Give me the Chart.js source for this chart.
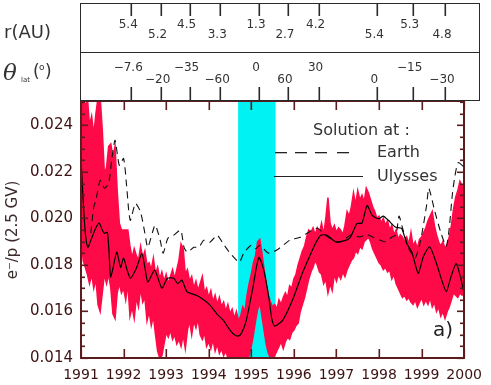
<!DOCTYPE html>
<html><head><meta charset="utf-8">
<script src="https://cdn.jsdelivr.net/npm/chart.js@4.4.0/dist/chart.umd.min.js"></script>
<style>html,body{margin:0;padding:0;background:#fff;}canvas{display:block;}</style>
</head><body>
<canvas id="c" width="491" height="385"></canvas>
<script>
// ---------- data ----------
const xTickYears = [1991,1992,1993,1994,1995,1996,1997,1998,1999,2000];
const yTickValues = [0.014,0.016,0.018,0.020,0.022,0.024];
const yMinorStep = 0.0005;
const cyanBand = [1994.69, 1995.57];

const ulyssesYears = [1991.00,1991.05,1991.10,1991.16,1991.25,1991.35,1991.43,1991.50,1991.55,1991.62,1991.66,1991.70,1991.84,1991.93,1992.00,1992.08,1992.16,1992.30,1992.43,1992.50,1992.57,1992.73,1992.90,1993.03,1993.18,1993.27,1993.37,1993.49,1993.71,1993.88,1994.03,1994.19,1994.34,1994.50,1994.61,1994.70,1994.77,1994.88,1995.04,1995.12,1995.18,1995.24,1995.31,1995.42,1995.48,1995.55,1995.74,1995.97,1996.20,1996.36,1996.51,1996.63,1996.78,1996.98,1997.21,1997.33,1997.48,1997.60,1997.72,1997.84,1997.99,1998.10,1998.22,1998.38,1998.53,1998.65,1998.77,1998.92,1999.04,1999.19,1999.35,1999.46,1999.58,1999.69,1999.81,1999.89,1999.99];
const ulyssesValues = [0.0226,0.0208,0.0194,0.01876,0.01915,0.0196,0.0198,0.0195,0.01936,0.0194,0.0185,0.01748,0.01855,0.0179,0.0183,0.0178,0.01743,0.01786,0.0185,0.0179,0.01726,0.01778,0.0170,0.01743,0.01743,0.0172,0.01735,0.01685,0.0167,0.0165,0.01627,0.0159,0.01563,0.0152,0.01499,0.01495,0.01507,0.0156,0.01705,0.0179,0.01833,0.0181,0.01765,0.0165,0.0157,0.01537,0.01563,0.0165,0.01765,0.01833,0.01893,0.01928,0.01928,0.0190,0.01906,0.0192,0.01978,0.0198,0.02056,0.02013,0.01999,0.0201,0.01992,0.01963,0.01957,0.01892,0.01856,0.01764,0.01835,0.01878,0.01806,0.01742,0.01685,0.01749,0.01806,0.01765,0.01685];

const earthYears = [1991.23,1991.30,1991.35,1991.45,1991.55,1991.65,1991.72,1991.80,1991.90,1992.00,1992.07,1992.12,1992.16,1992.28,1992.40,1992.50,1992.57,1992.74,1992.86,1992.93,1993.04,1993.15,1993.34,1993.42,1993.50,1993.65,1993.77,1993.88,1994.03,1994.20,1994.33,1994.50,1994.72,1994.82,1995.00,1995.10,1995.20,1995.40,1995.60,1995.90,1996.15,1996.35,1996.55,1996.80,1996.98,1997.10,1997.35,1997.55,1997.70,1997.85,1998.03,1998.15,1998.30,1998.40,1998.47,1998.55,1998.70,1998.85,1998.97,1999.05,1999.12,1999.17,1999.31,1999.45,1999.58,1999.65,1999.72,1999.78,1999.86,2000.00];
const earthValues = [0.01937,0.0205,0.02078,0.02164,0.0213,0.0215,0.0225,0.02336,0.02228,0.02258,0.02143,0.02035,0.01992,0.02065,0.02027,0.01937,0.01876,0.01971,0.01906,0.01851,0.01915,0.01924,0.0195,0.01876,0.01855,0.01876,0.01876,0.01906,0.01898,0.01928,0.01894,0.01851,0.01812,0.01851,0.01885,0.0187,0.01885,0.01851,0.01864,0.01906,0.01919,0.01941,0.01958,0.0192,0.0190,0.0190,0.0193,0.0192,0.01932,0.0192,0.01906,0.0190,0.0192,0.0193,0.0201,0.0196,0.0187,0.0183,0.0190,0.0198,0.0206,0.0213,0.0203,0.0194,0.0188,0.0196,0.0210,0.0218,0.0224,0.0222];

// measured e-/p band, sampled every 0.05 yr from 1991.00
const redStartYear = 1991;
const redStepYears = 0.05;
const redHigh = [
 0.0252,0.0252,0.0248,0.0252,0.0240,0.0244,0.0236,0.0245,0.0252,0.0252,0.0238,0.0219,0.0222,0.0231,0.0232,0.0226,0.0231,0.0212,0.0198,0.0195,
 0.0195,0.0195,0.0195,0.0188,0.0183,0.0187,0.0184,0.0182,0.0188,0.0183,0.0186,0.0180,0.0181,0.0178,0.0183,0.0176,0.0179,0.0174,0.0177,0.0173,
 0.0176,0.0172,0.0175,0.0178,0.0174,0.0178,0.0182,0.0189,0.0187,0.0176,0.0178,0.0173,0.0175,0.0170,0.0173,0.0169,0.0172,0.0175,0.0168,0.0170,
 0.0166,0.0169,0.0164,0.0167,0.0163,0.0166,0.0162,0.0164,0.0160,0.0163,0.0159,0.0161,0.0157,0.0160,0.0156,0.0158,0.0162,0.0160,0.0167,0.0172,
 0.0176,0.0181,0.0184,0.0190,0.0191,0.0185,0.0178,0.0172,0.0167,0.0164,0.0162,0.0163,0.0161,0.0165,0.0163,0.0166,0.0168,0.0166,0.0171,0.0170,
 0.0174,0.0176,0.0180,0.0183,0.0186,0.0188,0.0192,0.0195,0.0194,0.0196,0.0193,0.0196,0.0194,0.0198,0.0193,0.0200,0.0209,0.0198,0.0195,0.0197,
 0.0194,0.0196,0.0195,0.0193,0.0197,0.0203,0.0201,0.0205,0.0211,0.0206,0.0212,0.0208,0.0210,0.0207,0.0213,0.0211,0.0208,0.0205,0.0203,0.0200,
 0.0201,0.0198,0.0200,0.0197,0.0199,0.0195,0.0197,0.0193,0.0195,0.0191,0.0193,0.0192,0.0190,0.0192,0.0189,0.0194,0.0188,0.0190,0.0187,0.0191,
 0.0192,0.0194,0.0196,0.0199,0.0201,0.0203,0.0197,0.0193,0.0190,0.0188,0.0190,0.0187,0.0189,0.0192,0.0197,0.0204,0.0209,0.0212,0.0216,0.0214,
 0.0215];
const redLow = [
 0.0195,0.0182,0.0179,0.0176,0.0172,0.0176,0.0170,0.0174,0.0163,0.0160,0.0168,0.0176,0.0172,0.0176,0.0170,0.0159,0.0157,0.0168,0.0172,0.0168,
 0.0170,0.0165,0.0172,0.0158,0.0162,0.0157,0.0166,0.0162,0.0170,0.0164,0.0166,0.0156,0.0160,0.0154,0.0158,0.0150,0.0143,0.0140,0.0141,0.0146,
 0.0151,0.0149,0.0152,0.0148,0.0150,0.0146,0.0148,0.0145,0.0150,0.0144,0.0152,0.0156,0.0150,0.0156,0.0153,0.0157,0.0150,0.0148,0.0151,0.0145,
 0.0147,0.0144,0.0148,0.0143,0.0146,0.0142,0.0144,0.0141,0.0143,0.0140,0.0141,0.0140,0.0140,0.0140,0.0140,0.0140,0.0140,0.0140,0.0140,0.0141,
 0.0145,0.0150,0.0156,0.0161,0.0164,0.0158,0.0152,0.0146,0.0142,0.0140,0.0140,0.0141,0.0143,0.0145,0.0147,0.0144,0.0147,0.0149,0.0148,0.0151,
 0.0152,0.0154,0.0155,0.0160,0.0163,0.0166,0.0170,0.0174,0.0177,0.0179,0.0182,0.0180,0.0177,0.0176,0.0172,0.0174,0.0168,0.0172,0.0169,0.0176,
 0.0173,0.0176,0.0174,0.0177,0.0175,0.0178,0.0180,0.0182,0.0183,0.0186,0.0185,0.0188,0.0187,0.0190,0.0191,0.0192,0.0190,0.0187,0.0185,0.0183,
 0.0181,0.0180,0.0178,0.0179,0.0177,0.0178,0.0174,0.0176,0.0172,0.0170,0.0168,0.0166,0.0167,0.0165,0.0166,0.0164,0.0163,0.0165,0.0162,0.0164,
 0.0166,0.0163,0.0165,0.0163,0.0166,0.0162,0.0164,0.0160,0.0162,0.0158,0.0160,0.0157,0.0160,0.0162,0.0165,0.0168,0.0167,0.0166,0.0168,0.0167,
 0.0168];

// Ulysses orbit annotation (top panel)
const orbitTickYears = [1992.18,1992.87,1993.55,1994.27,1995.18,1995.86,1996.58,1997.96,1998.79,1999.55];
const rLabels = ['5.4','5.2','4.5','3.3','1.3','2.7','4.2','5.4','5.3','4.8'];
const thetaLabels = ['\u22127.6','\u221220','\u221235','\u221260','0','60','30','0','\u221215','\u221230'];

// ---------- build ----------
const pts = (xs, ys) => xs.map((x, i) => ({x, y: ys[i]}));
const redPts = arr => arr.map((v, i) => ({x: redStartYear + i * redStepYears, y: v}));

const FONT = 'DejaVu Sans';
const RED = '#ff0a48';
const AXIS = '#5a1c1c';
const LABEL = '#3d1212';

function vline(ctx, x, y1, y2, w) { ctx.fillRect(Math.round(x) - 0.5, Math.min(y1, y2), w || 1.6, Math.abs(y2 - y1)); }
function hline(ctx, x1, x2, y, w) { ctx.fillRect(Math.min(x1, x2), Math.round(y) - 0.5, Math.abs(x2 - x1), w || 1.6); }

const deco = {
  id: 'deco',
  beforeDatasetsDraw(chart) {
    const {ctx, chartArea: a, scales: {x}} = chart;
    ctx.save();
    ctx.fillStyle = '#00f2f2';
    const x0 = x.getPixelForValue(cyanBand[0]), x1 = x.getPixelForValue(cyanBand[1]);
    ctx.fillRect(x0, a.top, x1 - x0, a.bottom - a.top);
    ctx.restore();
  },
  afterDraw(chart) {
    const {ctx, chartArea: a, scales: {x, y}} = chart;
    ctx.save();
    ctx.setLineDash([]);
    ctx.globalAlpha = 1;
    // main frame
    ctx.fillStyle = AXIS;
    const left = Math.round(a.left), right = Math.round(a.right), top = Math.round(a.top), bottom = Math.round(a.bottom);
    ctx.fillRect(left - 1, top - 1, right - left + 2, 2);
    ctx.fillRect(left - 1, bottom - 1, right - left + 2, 2);
    ctx.fillRect(left - 1, top - 1, 2, bottom - top + 2);
    ctx.fillRect(right - 1, top - 1, 2, bottom - top + 2);
    xTickYears.forEach(v => {
      const px = x.getPixelForValue(v);
      vline(ctx, px, bottom, bottom - 9);
      vline(ctx, px, top, top + 9);
    });
    const n = Math.round((y.max - y.min) / yMinorStep);
    for (let i = 0; i <= n; i++) {
      const v = y.min + i * yMinorStep;
      const major = Math.abs(v / 0.002 - Math.round(v / 0.002)) < 1e-6;
      const len = major ? 7 : 4;
      const py = y.getPixelForValue(v);
      hline(ctx, left, left + len, py);
      hline(ctx, right - len, right, py);
    }
    // top panel
    const L = left - 1, R = 479, T = 3, M = 52, B = top - 1;
    ctx.fillStyle = '#2a2a2a';
    ctx.fillRect(L, T, R - L + 1, 1);
    ctx.fillRect(L, M, R - L + 1, 1);
    ctx.fillRect(L, B, R - L + 1, 1);
    ctx.fillRect(L, T, 1, B - T);
    ctx.fillRect(R, T, 1, B - T);
    ctx.textAlign = 'center'; ctx.textBaseline = 'middle';
    ctx.font = `12px "${FONT}"`;
    orbitTickYears.forEach((v, i) => {
      const px = x.getPixelForValue(v);
      ctx.fillStyle = '#2a2a2a';
      vline(ctx, px, T, T + 13);
      vline(ctx, px, B, B - 13);
      ctx.fillStyle = '#333';
      ctx.fillText(rLabels[i], px - 3, i % 2 ? 35 : 25);
      ctx.fillText(thetaLabels[i], px - 3, i % 2 ? 80 : 68);
    });
    // row titles
    ctx.fillStyle = '#333';
    ctx.textAlign = 'left';
    ctx.font = `18px "${FONT}"`;
    ctx.fillText('r(AU)', 4, 33);
    ctx.font = `italic 23px "DejaVu Serif"`;
    ctx.fillText('\u03b8', 3, 74);
    ctx.font = `7px "${FONT}"`;
    ctx.fillText('lat', 21, 80);
    ctx.font = `17px "${FONT}"`;
    ctx.fillText('(', 33, 73);
    ctx.fillText(')', 45, 73);
    ctx.font = `9px "${FONT}"`;
    ctx.fillText('o', 39, 68);
    // y title
    ctx.save();
    ctx.translate(13, 230);
    ctx.rotate(-Math.PI / 2);
    ctx.textAlign = 'center';
    ctx.fillStyle = '#3a2a2a';
    ctx.font = `15px "${FONT}"`;
    ctx.fillText('e\u207b/p (2.5 GV)', 0, 0);
    ctx.restore();
    // legend
    ctx.fillStyle = '#333';
    ctx.font = `16px "${FONT}"`;
    ctx.textAlign = 'left';
    ctx.fillText('Solution at :', 313, 131);
    ctx.fillText('Earth', 377, 153);
    ctx.fillText('Ulysses', 377, 177);
    ctx.fillStyle = '#222';
    [275, 295, 315, 337].forEach(x0 => ctx.fillRect(x0, 152, 12, 1.3));
    ctx.fillRect(274, 176, 89, 1);
    ctx.font = `20px "${FONT}"`;
    ctx.fillText('a)', 433, 331);
    ctx.restore();
  }
};

new Chart(document.getElementById('c'), {
  type: 'line',
  data: {
    datasets: [
      {label: 'Ulysses', data: pts(ulyssesYears, ulyssesValues), borderColor: '#000', borderWidth: 1.2,
       pointRadius: 0, tension: 0.2, fill: false, order: 0},
      {label: 'Earth', data: pts(earthYears, earthValues), borderColor: '#111', borderWidth: 1.1,
       borderDash: [7, 5], pointRadius: 0, tension: 0.2, fill: false, order: 1},
      {label: 'data high', data: redPts(redHigh), borderColor: RED, backgroundColor: RED, borderWidth: 1.5,
       pointRadius: 0, fill: '+1', order: 2},
      {label: 'data low', data: redPts(redLow), borderColor: RED, borderWidth: 1.5,
       pointRadius: 0, fill: false, order: 3}
    ]
  },
  options: {
    responsive: false, animation: false, devicePixelRatio: 1,
    layout: {padding: {top: 101, right: 22, left: 0, bottom: 0}},
    plugins: {legend: {display: false}, tooltip: {enabled: false}},
    scales: {
      x: {type: 'linear', min: 1991, max: 2000,
        afterBuildTicks: s => { s.ticks = xTickYears.map(v => ({value: v})); },
        afterFit: s => { s.height = 27; },
        grid: {display: false, drawTicks: false}, border: {display: false},
        ticks: {autoSkip: false, maxRotation: 0, padding: 9, color: LABEL,
          font: {family: FONT, size: 14}, callback: v => String(v)}},
      y: {type: 'linear', min: 0.014, max: 0.02505,
        afterBuildTicks: s => { s.ticks = yTickValues.map(v => ({value: v})); },
        afterFit: s => { s.width = 81; },
        grid: {display: false, drawTicks: false}, border: {display: false},
        ticks: {padding: 8, color: LABEL, font: {family: FONT, size: 15},
          callback: v => Number(v).toFixed(3)}}
    }
  },
  plugins: [deco]
});
</script>
</body></html>
